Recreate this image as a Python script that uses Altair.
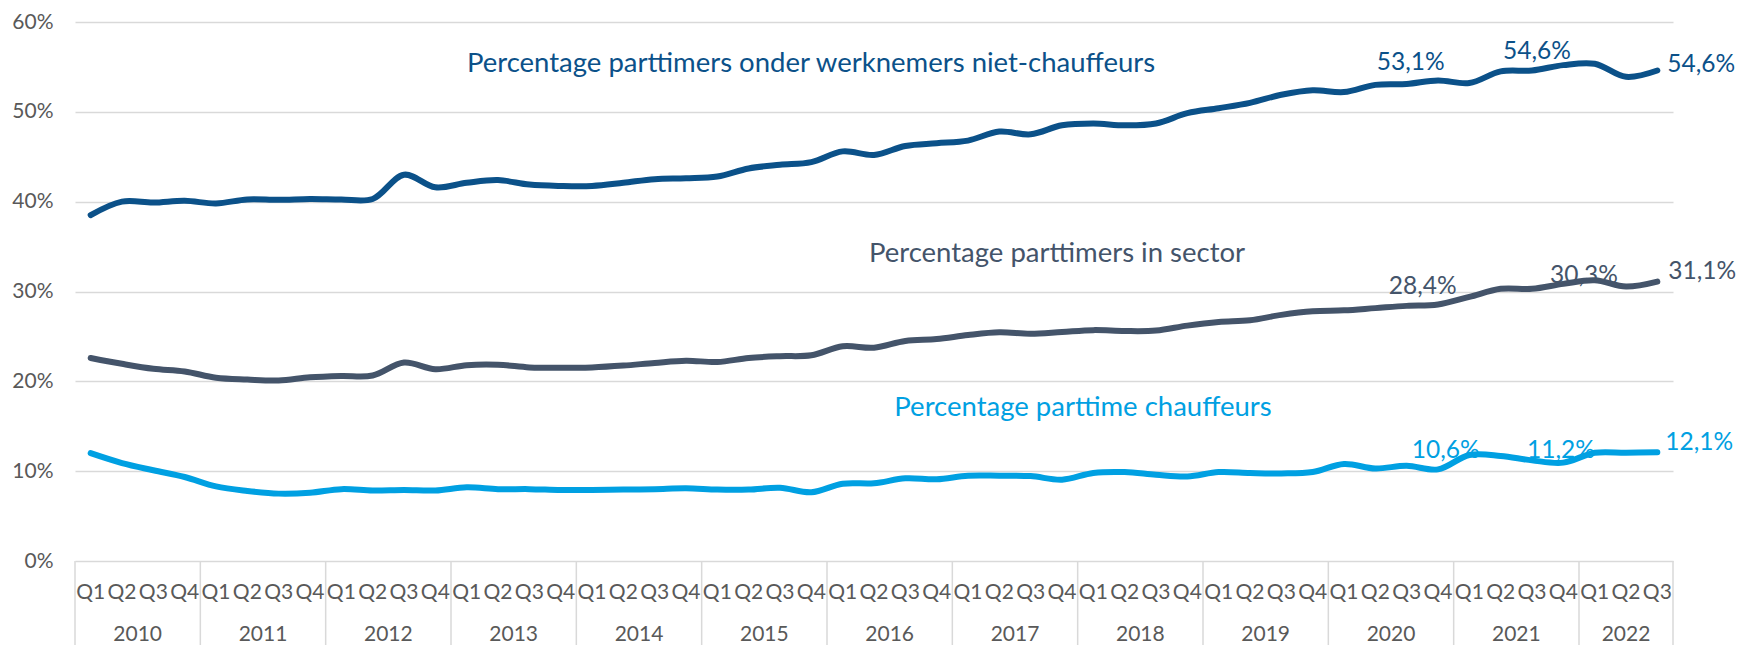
import altair as alt
import pandas as pd

# ---------------- data ----------------
years = [2010, 2011, 2012, 2013, 2014, 2015, 2016, 2017, 2018, 2019, 2020, 2021, 2022]
quarter_names = ["Q1", "Q2", "Q3", "Q4"]
quarters_last_year = 3

niet_chauffeurs = [38.5, 40.0, 39.9, 40.1, 39.8, 40.25, 40.2, 40.3, 40.25, 40.3,
                   43.0, 41.6, 42.1, 42.4, 41.9, 41.75, 41.75, 42.1, 42.5, 42.6,
                   42.8, 43.7, 44.1, 44.4, 45.6, 45.2, 46.2, 46.5, 46.8, 47.8,
                   47.5, 48.5, 48.7, 48.5, 48.7, 49.85, 50.4, 51.0, 51.9, 52.4,
                   52.2, 53.0, 53.1, 53.5, 53.2, 54.5, 54.6, 55.2, 55.35, 53.9,
                   54.6]
sector = [22.6, 21.95, 21.4, 21.1, 20.4, 20.2, 20.1, 20.45, 20.6, 20.65,
          22.1, 21.35, 21.8, 21.85, 21.55, 21.5, 21.55, 21.75, 22.05, 22.3,
          22.15, 22.6, 22.8, 22.9, 23.9, 23.75, 24.5, 24.7, 25.15, 25.45,
          25.3, 25.5, 25.7, 25.6, 25.65, 26.2, 26.6, 26.8, 27.4, 27.8,
          27.9, 28.15, 28.4, 28.55, 29.4, 30.3, 30.3, 30.85, 31.25, 30.55,
          31.1]
chauffeurs = [12.0, 10.9, 10.1, 9.35, 8.3, 7.8, 7.5, 7.6, 8.0, 7.85,
              7.9, 7.85, 8.2, 8.0, 8.0, 7.9, 7.9, 7.95, 8.0, 8.1,
              7.95, 7.95, 8.15, 7.65, 8.6, 8.65, 9.2, 9.1, 9.5, 9.5,
              9.45, 9.05, 9.8, 9.9, 9.6, 9.4, 9.9, 9.8, 9.75, 9.9,
              10.8, 10.3, 10.6, 10.2, 11.8, 11.7, 11.2, 10.95, 12.05, 12.05,
              12.1]

series_names = [
    "Percentage parttimers onder werknemers niet-chauffeurs",
    "Percentage parttimers in sector",
    "Percentage parttime chauffeurs",
]
series_colors = ["#0b5189", "#44546a", "#00a0e2"]
label_quarters = ["2020 Q3", "2021 Q3"]
y_ticks = [0, 10, 20, 30, 40, 50, 60]

# ---------------- tables ----------------
rows = []
for yr in years:
    nq = quarters_last_year if yr == years[-1] else 4
    for q in quarter_names[:nq]:
        rows.append((str(yr), q))
quarters = pd.DataFrame(rows, columns=["year", "quarter"])
quarters["idx"] = list(range(len(quarters)))
quarters["key"] = quarters["year"] + " " + quarters["quarter"]
n = len(quarters)

frames = []
for name, vals in zip(series_names, [niet_chauffeurs, sector, chauffeurs]):
    f = quarters.copy()
    f["series"] = name
    f["value"] = vals
    frames.append(f)
df = pd.concat(frames, ignore_index=True)

grp = quarters.groupby("year")["idx"]
bounds = [float(v) - 0.5 for v in grp.min()] + [float(quarters["idx"].max()) + 0.5]
bounds_df = pd.DataFrame({"b": bounds})
year_df = pd.DataFrame({"year": list(grp.mean().index), "center": [float(v) for v in grp.mean().values]})

# ---------------- style ----------------
W, H = 1598, 539
PAD_TOP = 14
PAD_BOTTOM = 84
FONT = "Lato"
AXIS_COLOR = "#595959"
GRID = "#d9d9d9"

xscale = alt.Scale(domain=[-0.5, n - 0.5], nice=False, zero=False)
yscale = alt.Scale(domain=[0, 60], nice=False)

color = alt.Color("series:N", scale=alt.Scale(domain=series_names, range=series_colors), legend=None)

lines = alt.Chart(df).mark_line(interpolate="catmull-rom", strokeWidth=6, strokeCap="round").encode(
    x=alt.X("idx:Q", scale=xscale, axis=None),
    y=alt.Y("value:Q", scale=yscale, axis=alt.Axis(
        values=y_ticks, labelExpr="datum.value + '%'", grid=True, gridColor=GRID, gridWidth=1.5,
        domain=False, ticks=False, labelFont=FONT, labelFontSize=21, labelColor=AXIS_COLOR,
        labelPadding=22, title=None)),
    color=color,
)

dividers = alt.Chart(bounds_df).mark_rule(color=GRID, strokeWidth=1.5).encode(
    x=alt.X("b:Q", scale=xscale, axis=None),
    y=alt.value(H),
    y2=alt.value(H + PAD_BOTTOM),
)

q_labels = alt.Chart(quarters).mark_text(font=FONT, fontSize=21, color=AXIS_COLOR, baseline="middle").encode(
    x=alt.X("idx:Q", scale=xscale, axis=None),
    y=alt.value(H + 32),
    text="quarter:N",
)

year_labels = alt.Chart(year_df).mark_text(font=FONT, fontSize=21, color=AXIS_COLOR, baseline="middle").encode(
    x=alt.X("center:Q", scale=xscale, axis=None),
    y=alt.value(H + 74),
    text="year:N",
)

label_expr = "replace(format(datum.value, '.1f'), '.', ',') + '%'"

# offsets (dx, dy, align) for each value label: series -> [mid1, mid2, end]
label_style = {
    series_names[0]: [(4, -21, "center"), (5, -19, "center"), (10, -6, "left")],
    series_names[1]: [(16, -19, "center"), (52, -13, "center"), (11, -10, "left")],
    series_names[2]: [(39, -15, "center"), (29, -9, "center"), (8, -9, "left")],
}

value_layers = []
targets = label_quarters + [quarters["key"].iloc[-1]]
for name, col in zip(series_names, series_colors):
    for key, (dx, dy, al) in zip(targets, label_style[name]):
        sub = df[(df["series"] == name) & (df["key"] == key)].reset_index(drop=True)
        value_layers.append(
            alt.Chart(sub).transform_calculate(lab=label_expr).mark_text(
                font=FONT, fontSize=24.5, color=col, dx=dx, dy=dy, align=al, baseline="middle"
            ).encode(
                x=alt.X("idx:Q", scale=xscale, axis=None),
                y=alt.Y("value:Q", scale=yscale),
                text="lab:N",
            )
        )

# series name annotations (pixel positions within plot area)
name_pos = [(736, 42), (982, 232), (1008, 386)]
name_layers = []
for name, col, (px, py) in zip(series_names, series_colors, name_pos):
    name_layers.append(
        alt.Chart(pd.DataFrame({"name": [name]})).mark_text(
            font=FONT, fontSize=27.5, color=col, align="center", baseline="middle"
        ).encode(x=alt.value(px), y=alt.value(py), text="name:N")
    )

chart = alt.layer(dividers, lines, q_labels, year_labels, *value_layers, *name_layers).properties(
    width=W, height=H,
    background="white",
    autosize=alt.AutoSizeParams(type="none"),
    padding={"left": 67, "top": PAD_TOP, "right": 69, "bottom": PAD_BOTTOM},
).configure_view(stroke=None)

chart.save("out.html", embed_options={"renderer": "svg", "actions": False})
